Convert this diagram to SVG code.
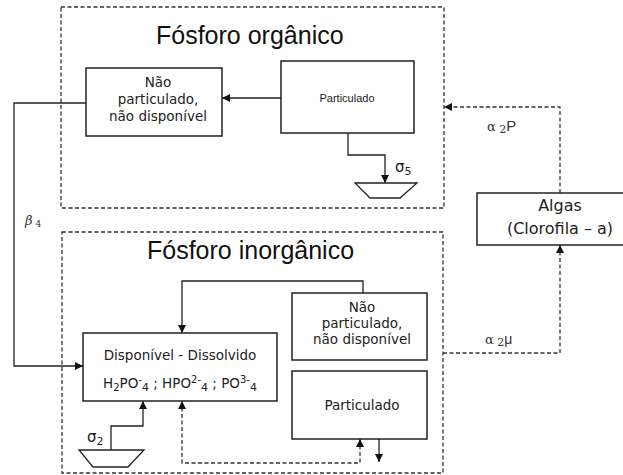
<svg xmlns="http://www.w3.org/2000/svg" width="623" height="475" viewBox="0 0 623 475">
<style>
.bg{fill:#fff}
.box{fill:#fff;stroke:#222;stroke-width:1.5}
.group{fill:none;stroke:#333;stroke-width:1.3;stroke-dasharray:4 2.5}
.line{fill:none;stroke:#222;stroke-width:1.3}
.dash{fill:none;stroke:#333;stroke-width:1.3;stroke-dasharray:4 2.5}
.sink{fill:#fff;stroke:#222;stroke-width:1.3}
.title{font-family:"Liberation Sans",Arial,sans-serif;font-size:25px;fill:#111}
.t{font-family:"DejaVu Sans",Verdana,sans-serif;font-size:13.5px;fill:#222;text-anchor:middle}
.ta{font-family:"Liberation Sans",Arial,sans-serif;font-size:11px;fill:#222;text-anchor:middle}
.tl{font-family:"DejaVu Sans",Verdana,sans-serif;font-size:16px;fill:#222;text-anchor:middle}
.lab{font-family:"DejaVu Sans",sans-serif;font-size:15px;fill:#222}
.lab2{font-family:"DejaVu Serif",serif;font-size:13px;fill:#333}
</style>
<defs>
<marker id="ah" markerUnits="userSpaceOnUse" markerWidth="9" markerHeight="8" refX="8" refY="4" orient="auto-start-reverse">
<path d="M0,0 L8,4 L0,8 z" fill="#111"/>
</marker>
</defs>
<rect class="bg" x="0" y="0" width="623" height="475"/>

<g id="organico">
<rect class="group" x="61" y="7" width="383" height="201"/>
<text class="title" x="156" y="44">Fósforo orgânico</text>
</g>
<g id="inorganico">
<rect class="group" x="62" y="232" width="381" height="241"/>
<text class="title" x="147" y="259">Fósforo inorgânico</text>
</g>

<g id="org-npnd">
<rect class="box" x="86" y="68" width="136" height="68"/>
<text class="t" x="158" y="87">Não</text>
<text class="t" x="158" y="104">particulado,</text>
<text class="t" x="158" y="121">não disponível</text>
</g>
<g id="org-part">
<rect class="box" x="281" y="61" width="133" height="72"/>
<text class="ta" x="347" y="102">Particulado</text>
</g>
<g id="org-sink">
<polygon class="sink" points="355,183 417,183 400,198 370,198"/>
</g>
<g id="algas">
<rect class="box" x="477" y="193" width="150" height="52"/>
<text class="tl" x="560" y="211">Algas</text>
<text class="tl" x="560" y="234">(Clorofila – a)</text>
</g>
<g id="disponivel">
<rect class="box" x="83" y="333" width="194" height="68"/>
<text class="t" x="180" y="360">Disponível - Dissolvido</text>
<text class="t" x="180" y="388">H<tspan font-size="10" dy="3">2</tspan><tspan dy="-3">PO</tspan><tspan font-size="10" dy="-5">-</tspan><tspan font-size="11" dy="8">4</tspan><tspan dy="-3"> ; HPO</tspan><tspan font-size="10" dy="-5">2-</tspan><tspan font-size="11" dy="8">4</tspan><tspan dy="-3"> ; PO</tspan><tspan font-size="10" dy="-5">3-</tspan><tspan font-size="11" dy="8">4</tspan></text>
</g>
<g id="inorg-npnd">
<rect class="box" x="292" y="293" width="135" height="67"/>
<text class="t" x="362" y="312">Não</text>
<text class="t" x="362" y="328">particulado,</text>
<text class="t" x="362" y="344">não disponível</text>
</g>
<g id="inorg-part">
<rect class="box" x="292" y="371" width="135" height="68"/>
<text class="t" x="362" y="410">Particulado</text>
</g>
<g id="inorg-sink">
<polygon class="sink" points="79,450 144,450 128,467 93,467"/>
</g>

<g id="connectors">
<path class="line" d="M281,98 H222" marker-end="url(#ah)"/>
<path class="line" d="M348,133 V155 H385 V183" marker-end="url(#ah)"/>
<path class="dash" d="M560,193 V107 H444" marker-end="url(#ah)"/>
<path class="line" d="M86,103 H14 V366 H83" marker-end="url(#ah)"/>
<path class="dash" d="M443,353 H560 V245" marker-end="url(#ah)"/>
<path class="line" d="M363,293 V281 H182 V333" marker-end="url(#ah)"/>
<path class="dash" d="M360,439 V463 H182 V401" marker-start="url(#ah)" marker-end="url(#ah)"/>
<path class="line" d="M379,439 V462" marker-end="url(#ah)"/>
<path class="line" d="M111,450 V426 H143 V401" marker-end="url(#ah)"/>
</g>

<g id="labels">
<text class="lab" x="395" y="172">σ<tspan font-size="11" dy="3">5</tspan></text>
<text class="lab" x="87" y="442">σ<tspan font-size="11" dy="3">2</tspan></text>
<text class="lab2" x="25" y="225" font-style="italic">β<tspan font-size="9" dy="2" font-style="normal"> 4</tspan></text>
<text class="lab2" x="487" y="131">α<tspan font-size="11" dy="2"> 2</tspan><tspan font-family="Liberation Sans,sans-serif" font-size="15" dy="-2">P</tspan></text>
<text class="lab2" x="485" y="344">α<tspan font-size="11" dy="2"> 2</tspan><tspan font-family="Liberation Sans,sans-serif" font-size="14" dy="-2">μ</tspan></text>
</g>
</svg>
